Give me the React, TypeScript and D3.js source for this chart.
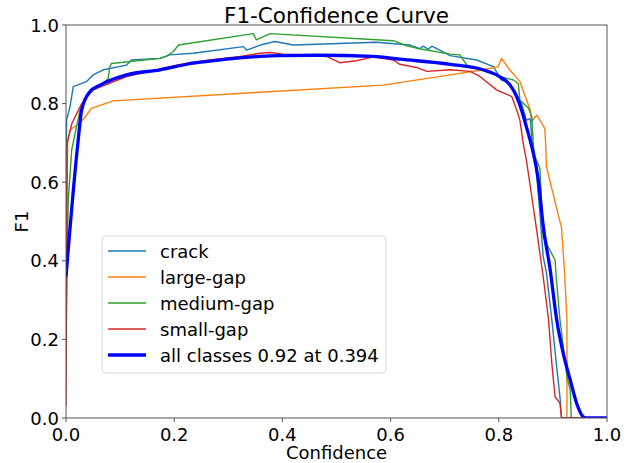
import * as d3 from "d3";

const W = 641;
const H = 463;
const font = "DejaVu Sans, sans-serif";

const seriesNames = ["crack", "large-gap", "medium-gap", "small-gap"];
const seriesColors = ["#1f77b4", "#ff7f0e", "#2ca02c", "#d62728"];
const allLabel = "all classes 0.92 at 0.394";
const xTicks = [0, 0.2, 0.4, 0.6, 0.8, 1.0];
const yTicks = [0, 0.2, 0.4, 0.6, 0.8, 1.0];

// [confidence, f1]
const crack = [[0,0.40],[0.001,0.758],[0.0074,0.792],[0.0135,0.843],[0.038,0.856],[0.05,0.873],[0.069,0.886],[0.112,0.898],[0.121,0.911],[0.174,0.915],[0.192,0.924],[0.235,0.928],[0.328,0.945],[0.334,0.936],[0.359,0.949],[0.386,0.958],[0.42,0.949],[0.574,0.956],[0.636,0.949],[0.654,0.94],[0.66,0.946],[0.67,0.938],[0.676,0.946],[0.691,0.936],[0.71,0.922],[0.759,0.911],[0.79,0.894],[0.805,0.86],[0.815,0.856],[0.83,0.83],[0.842,0.8],[0.851,0.758],[0.858,0.762],[0.862,0.70],[0.868,0.65],[0.876,0.521],[0.882,0.411],[0.888,0.37],[0.898,0.25],[0.907,0.13],[0.913,0.054],[0.916,0],[1,0]];
const largeGap = [[0,0.3],[0.003,0.70],[0.0074,0.733],[0.026,0.75],[0.038,0.771],[0.047,0.788],[0.087,0.807],[0.359,0.829],[0.586,0.847],[0.71,0.873],[0.771,0.886],[0.799,0.894],[0.805,0.915],[0.818,0.89],[0.839,0.856],[0.848,0.822],[0.858,0.784],[0.861,0.754],[0.87,0.771],[0.885,0.737],[0.887,0.686],[0.888,0.64],[0.916,0.483],[0.922,0.36],[0.926,0.25],[0.926,0],[1,0]];
const mediumGap = [[0,0.2],[0.004,0.55],[0.0105,0.682],[0.026,0.784],[0.044,0.83],[0.069,0.851],[0.078,0.864],[0.081,0.894],[0.084,0.902],[0.174,0.915],[0.186,0.921],[0.198,0.932],[0.208,0.949],[0.346,0.978],[0.352,0.962],[0.377,0.978],[0.605,0.96],[0.63,0.947],[0.648,0.941],[0.71,0.926],[0.728,0.924],[0.741,0.898],[0.802,0.869],[0.827,0.86],[0.836,0.851],[0.839,0.809],[0.855,0.788],[0.861,0.767],[0.864,0.69],[0.867,0.665],[0.876,0.635],[0.882,0.461],[0.888,0.444],[0.904,0.402],[0.906,0.36],[0.913,0.25],[0.926,0.105],[0.932,0.071],[0.934,0],[1,0]];
const smallGap = [[0,0.03],[0.002,0.70],[0.011,0.75],[0.02,0.775],[0.029,0.80],[0.05,0.835],[0.112,0.869],[0.205,0.898],[0.229,0.904],[0.266,0.911],[0.322,0.92],[0.359,0.928],[0.377,0.93],[0.401,0.926],[0.445,0.924],[0.482,0.92],[0.506,0.904],[0.537,0.909],[0.568,0.919],[0.605,0.911],[0.617,0.90],[0.648,0.892],[0.667,0.882],[0.71,0.886],[0.747,0.882],[0.765,0.869],[0.796,0.835],[0.824,0.818],[0.833,0.784],[0.839,0.758],[0.845,0.70],[0.851,0.656],[0.861,0.563],[0.87,0.478],[0.882,0.36],[0.892,0.25],[0.898,0.139],[0.904,0.054],[0.913,0.037],[0.916,0],[1,0]];
const allClasses = [[0,0.36],[0.022,0.70],[0.029,0.784],[0.044,0.83],[0.063,0.847],[0.112,0.873],[0.174,0.886],[0.235,0.903],[0.297,0.913],[0.359,0.92],[0.394,0.922],[0.463,0.923],[0.567,0.92],[0.617,0.913],[0.71,0.90],[0.771,0.886],[0.802,0.868],[0.821,0.847],[0.833,0.818],[0.842,0.784],[0.851,0.741],[0.861,0.69],[0.873,0.606],[0.882,0.49],[0.895,0.377],[0.907,0.25],[0.919,0.165],[0.932,0.097],[0.944,0.037],[0.956,0.003],[0.962,0],[1,0]];

const seriesData = [crack, largeGap, mediumGap, smallGap];

export default function App() {
  const left = 66, right = 607, top = 25, bottom = 418;
  const x = d3.scaleLinear([0, 1], [left, right]);
  const y = d3.scaleLinear([0, 1], [bottom, top]);
  const line = d3.line<number[]>((d) => x(d[0]), (d) => y(d[1]));
  const smooth = d3.line<number[]>((d) => x(d[0]), (d) => y(d[1])).curve(d3.curveMonotoneX);
  const axisColor = "#555";
  const fs = 18;

  const legX = 102, legY = 236, rowH = 26;

  return (
    <div style={{ position: "absolute", left: 0, top: 0 }}>
      <svg width={W} height={H} style={{ display: "block", background: "#fff" }} fontFamily={font}>
        <defs>
          <clipPath id="plot">
            <rect x={left} y={top - 2} width={right - left} height={bottom - top + 2} />
          </clipPath>
        </defs>
        <g clipPath="url(#plot)">
          {seriesData.map((d, i) => (
            <path key={i} d={line(d) || ""} fill="none" stroke={seriesColors[i]} strokeWidth={1.4} strokeLinejoin="round" />
          ))}
          <path d={smooth(allClasses) || ""} fill="none" stroke="#0000ff" strokeWidth={3.3} strokeLinejoin="round" />
        </g>
        <rect x={left} y={top} width={right - left} height={bottom - top} fill="none" stroke={axisColor} strokeWidth={1} />
        {xTicks.map((t) => (
          <g key={"x" + t}>
            <line x1={x(t)} x2={x(t)} y1={bottom} y2={bottom + 4} stroke={axisColor} />
            <text x={x(t)} y={bottom + 23} textAnchor="middle" fontSize={fs} fill="#000">{t.toFixed(1)}</text>
          </g>
        ))}
        {yTicks.map((t) => (
          <g key={"y" + t}>
            <line x1={left - 4} x2={left} y1={y(t)} y2={y(t)} stroke={axisColor} />
            <text x={left - 7} y={y(t) + 6.5} textAnchor="end" fontSize={fs} fill="#000">{t.toFixed(1)}</text>
          </g>
        ))}
        <text x={(left + right) / 2} y={23} textAnchor="middle" fontSize={21.5} fill="#000">F1-Confidence Curve</text>
        <text x={(left + right) / 2} y={459} textAnchor="middle" fontSize={fs} fill="#000">Confidence</text>
        <text transform={`translate(28,${(top + bottom) / 2}) rotate(-90)`} textAnchor="middle" fontSize={fs} fill="#000">F1</text>
        <rect x={legX} y={legY} width={284} height={137} rx={4} fill="#fff" fillOpacity={0.8} stroke="#d6d6d6" />
        {[...seriesNames, allLabel].map((name, i) => {
          const cy = legY + 15 + i * rowH;
          const isAll = i === seriesNames.length;
          return (
            <g key={name}>
              <line x1={legX + 6} x2={legX + 44} y1={cy} y2={cy} stroke={isAll ? "#0000ff" : seriesColors[i]} strokeWidth={isAll ? 3.3 : 1.4} />
              <text x={legX + 58} y={cy + 6.5} fontSize={fs} fill="#000">{name}</text>
            </g>
          );
        })}
      </svg>
    </div>
  );
}
